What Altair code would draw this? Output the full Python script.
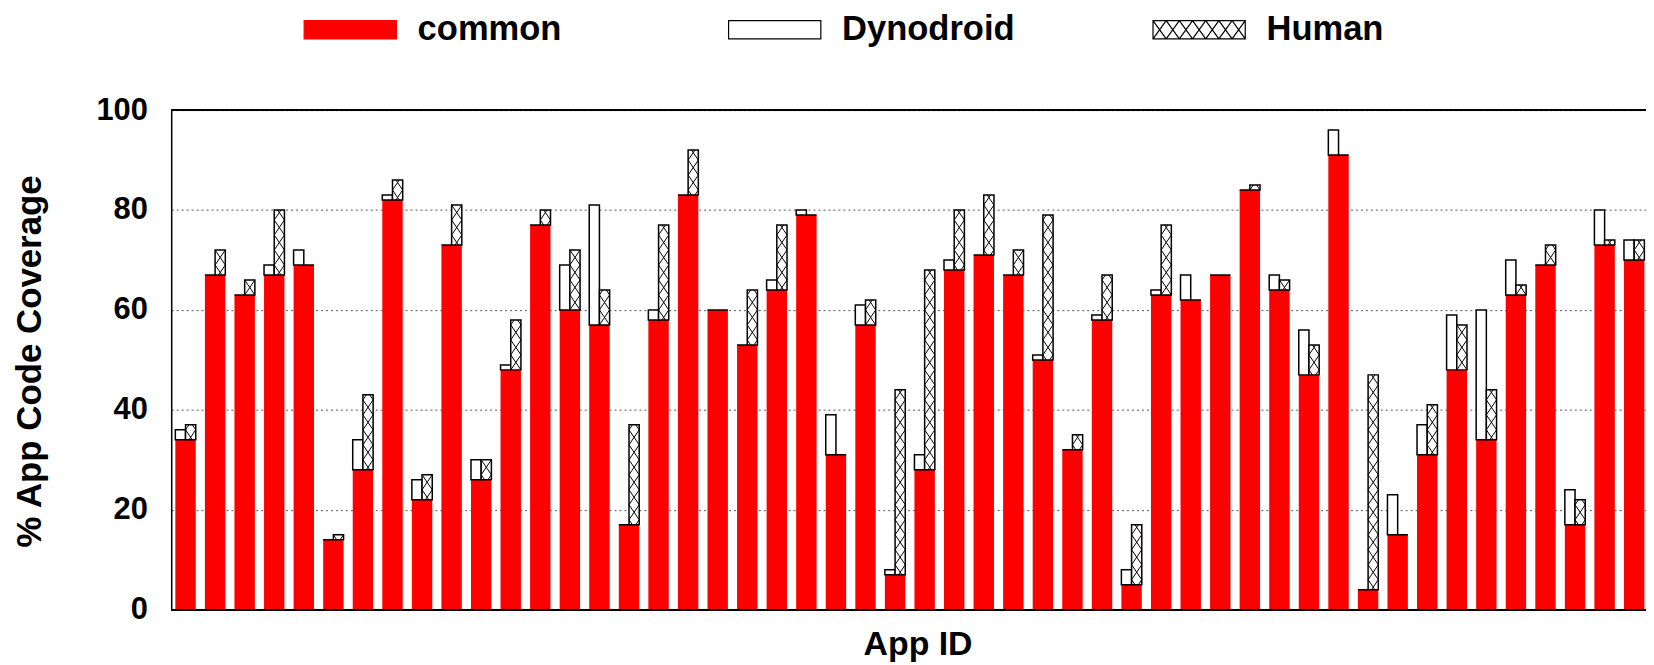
import altair as alt
import pandas as pd
import numpy as np

# ---------------- data ----------------
apps = list(range(1, 51))
common = [34, 67, 63, 67, 69, 14, 28, 82, 22, 73,
          26, 48, 77, 60, 57, 17, 58, 83, 60, 53,
          64, 79, 31, 57, 7, 28, 68, 71, 67, 50,
          32, 58, 5, 63, 62, 67, 84, 64, 47, 91,
          4, 15, 31, 48, 34, 63, 69, 17, 73, 70]
dynodroid = [36, 67, 63, 69, 72, 14, 34, 83, 26, 73,
             30, 49, 77, 69, 81, 17, 60, 83, 60, 53,
             66, 80, 39, 61, 8, 31, 70, 71, 67, 51,
             32, 59, 8, 64, 67, 67, 84, 67, 56, 96,
             4, 23, 37, 59, 60, 70, 69, 24, 80, 74]
human = [37, 72, 66, 80, 69, 15, 43, 86, 27, 81,
         30, 58, 80, 72, 64, 37, 77, 92, 60, 64,
         77, 79, 31, 62, 44, 68, 80, 83, 72, 79,
         35, 67, 17, 77, 62, 67, 85, 66, 53, 91,
         47, 15, 41, 57, 44, 65, 73, 22, 74, 74]
series_names = ["common", "Dynodroid", "Human"]
y_ticks = [0, 20, 40, 60, 80, 100]

# ---------------- styling ----------------
FONT = "Liberation Sans"
RED = "#ff0000"
HW = 0.345      # half width of a group's bar, in group units
PERIOD = 3.0    # crosshatch period along y (data units)

df = pd.DataFrame({"app": apps, "common": common, "dyno": dynodroid, "human": human})
df["pos"] = df["app"] - 1
df["left"] = df["pos"] - HW
df["right"] = df["pos"] + HW

# crosshatch segments inside the "Human" boxes, derived from the data
segs = []
for _, r in df.iterrows():
    c, h = float(r.common), float(r.human)
    if h <= c:
        continue
    xl, xr = float(r.pos), float(r.pos) + HW
    w = xr - xl
    for k in range(int(np.floor(c / PERIOD)), int(np.ceil(h / PERIOD))):
        y0 = k * PERIOD
        t0 = max(0.0, (c - y0) / PERIOD)
        t1 = min(1.0, (h - y0) / PERIOD)
        if t1 <= t0:
            continue
        segs.append(dict(x=xl + t0 * w, x2=xl + t1 * w, y=y0 + t0 * PERIOD, y2=y0 + t1 * PERIOD))
        segs.append(dict(x=xr - t0 * w, x2=xr - t1 * w, y=y0 + t0 * PERIOD, y2=y0 + t1 * PERIOD))
seg_df = pd.DataFrame(segs)

# ---------------- scales / axes ----------------
XS = alt.Scale(domain=[-0.485, 49.4], nice=False, zero=False)
YS = alt.Scale(domain=[0, 100], nice=False, zero=True)

X_AXIS = alt.Axis(labels=False, ticks=False, grid=False, domain=True,
                  domainColor="black", domainWidth=1.5,
                  title="App ID", titleFont=FONT, titleFontSize=34, titleFontWeight="bold",
                  titleColor="black", titleX=750, titleY=45, titleBaseline="alphabetic",
                  titleAlign="center")
Y_AXIS = alt.Axis(values=y_ticks, grid=True, gridDash=[2, 3], gridColor="#555555", gridWidth=1,
                  ticks=False, tickSize=0, domain=True, domainColor="black", domainWidth=1.5,
                  labelFont=FONT, labelFontSize=31, labelFontWeight="bold", labelColor="black",
                  labelPadding=24,
                  title="% App Code Coverage", titleFont=FONT, titleFontSize=35,
                  titleFontWeight="bold", titleColor="black", titleAngle=270,
                  titleBaseline="alphabetic", titleAlign="center", titleX=-131, titleY=252)

def X(field):
    return alt.X(field, type="quantitative", scale=XS, axis=X_AXIS, title="App ID")

def Y(field):
    return alt.Y(field, type="quantitative", scale=YS, axis=Y_AXIS, title="% App Code Coverage")

base = alt.Chart(df)

red = base.mark_rect(color=RED).encode(
    x=X("left"), x2="right", y=Y("zero_base"), y2="common"
).transform_calculate(zero_base="0")

dyno_box = base.mark_rect(fill="white", stroke="black", strokeWidth=1.5).encode(
    x=X("left"), x2="pos", y=Y("common"), y2="dyno"
)

human_fill = base.mark_rect(fill="white").encode(
    x=X("pos"), x2="right", y=Y("common"), y2="human"
)

hatch = alt.Chart(seg_df).mark_rule(color="black", strokeWidth=1).encode(
    x=X("x"), x2="x2", y=Y("y"), y2="y2"
)

human_box = base.mark_rect(fill="transparent", stroke="black", strokeWidth=1.5).encode(
    x=X("pos"), x2="right", y=Y("common"), y2="human"
)

top_rule = alt.Chart(df).mark_rule(color="black", strokeWidth=1.5).encode(
    y=alt.YDatum(100, scale=YS, axis=Y_AXIS, title="% App Code Coverage")
)
bottom_rule = alt.Chart(df).mark_rule(color="black", strokeWidth=1.5).encode(
    y=alt.YDatum(0, scale=YS, axis=Y_AXIS, title="% App Code Coverage")
)

# ---------------- legend (library legend with custom swatch shapes) ----------------
# nominal symbol box = swatch height; the path extends wider than the box
SW_H = 18.3
SW_W = 92.7
SYM = SW_H * SW_H
HX = SW_W / SW_H            # half width in path units
rect_path = f"M-{HX:.4f},-1H{HX:.4f}V1H-{HX:.4f}Z"
hatch_path = rect_path
n_cells = 7
for j in range(n_cells):
    a = -HX + 2 * HX * j / n_cells
    b = -HX + 2 * HX * (j + 1) / n_cells
    hatch_path += f"M{a:.4f},-1L{b:.4f},1M{b:.4f},-1L{a:.4f},1"

LEG = alt.Legend(orient="none", legendX=162.6, legendY=-98.5, direction="horizontal",
                 title=None, labelFont=FONT, labelFontSize=34.7, labelFontWeight="bold",
                 labelColor="black", labelOffset=50.3, labelLimit=600, symbolSize=SYM,
                 symbolStrokeWidth=1.2, symbolOpacity=1, columnPadding=135.5,
                 gridAlign="all", padding=0)

legend_df = pd.DataFrame({"series": series_names})
legend_layer = alt.Chart(legend_df).transform_filter("false").mark_point(
    filled=True, opacity=1, size=SYM
).encode(
    fill=alt.Fill("series:N", scale=alt.Scale(domain=series_names, range=[RED, "white", "white"]), legend=LEG),
    stroke=alt.Stroke("series:N", scale=alt.Scale(domain=series_names, range=[RED, "black", "black"]), legend=LEG),
    shape=alt.Shape("series:N", scale=alt.Scale(domain=series_names, range=[rect_path, rect_path, hatch_path]), legend=LEG),
)

chart = alt.layer(
    red, dyno_box, human_fill, hatch, human_box, top_rule, bottom_rule, legend_layer
).properties(
    width=1482, height=502,
    padding={"left": 164, "top": 101, "right": 0, "bottom": 54},
    autosize=alt.AutoSizeParams(type="none"),
    background="white",
).configure_view(strokeWidth=0).configure(font=FONT)

chart.save("out.html", embed_options={"renderer": "svg", "actions": False})
